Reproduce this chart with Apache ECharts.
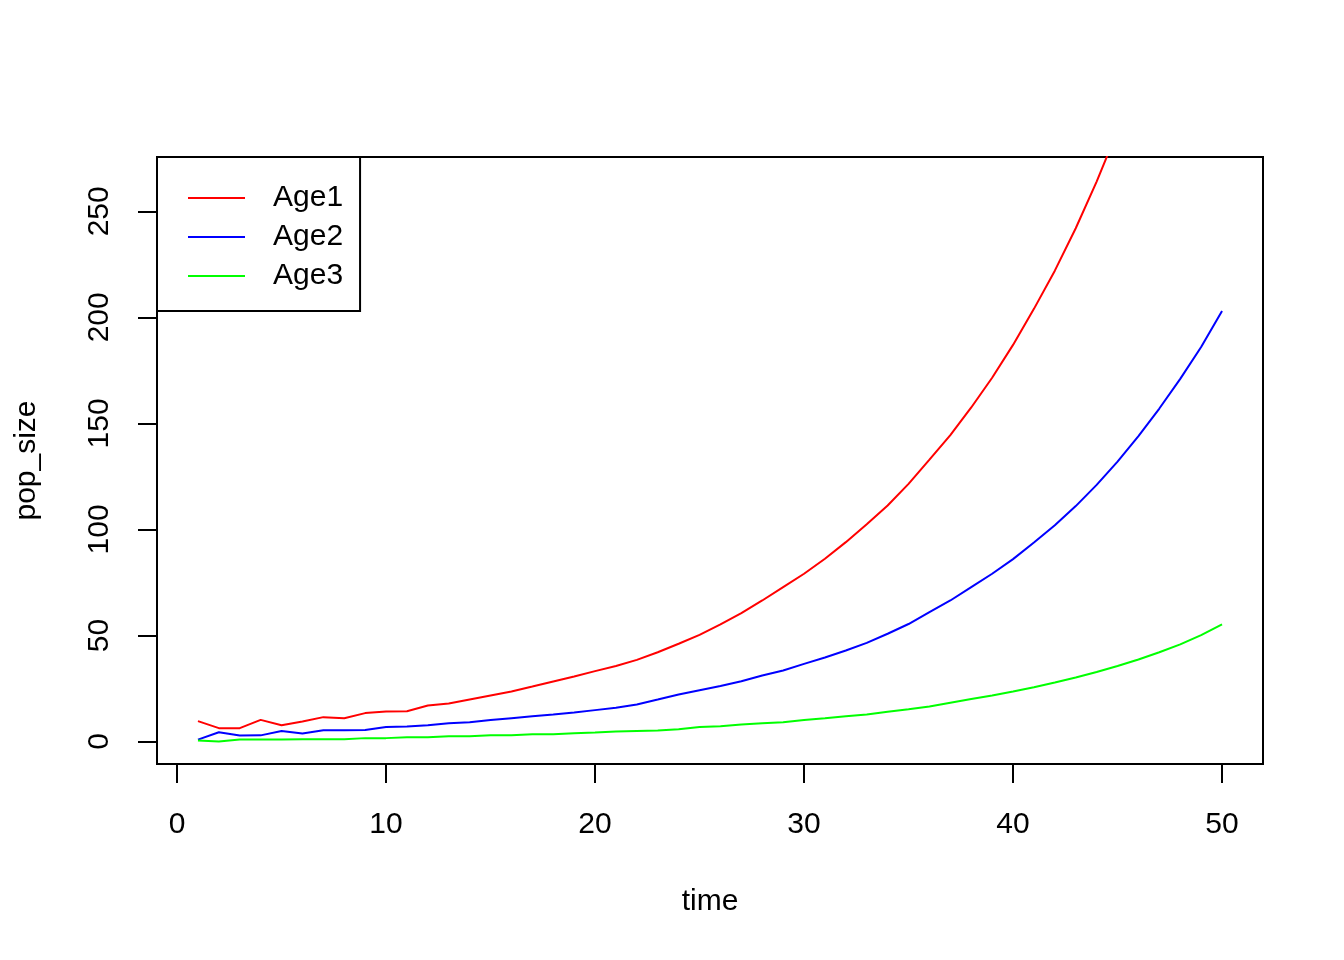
<!DOCTYPE html>
<html>
<head>
<meta charset="utf-8">
<script src="https://cdn.jsdelivr.net/npm/echarts@6/dist/echarts.min.js"></script>
<style>
html,body{margin:0;padding:0;background:#fff;}
#chart{width:1344px;height:960px;}
</style>
</head>
<body>
<div id="chart"></div>
<script>
const time = Array.from({length: 50}, (_, i) => i + 1);
const age1 = [9.6, 6.3, 6.3, 10.2, 7.7, 9.4, 11.5, 11.0, 13.4, 14.1,
  14.3, 17.0, 17.9, 19.8, 21.7, 23.6, 25.9, 28.3, 30.7, 33.2,
  35.6, 38.5, 42.1, 46.1, 50.3, 55.2, 60.5, 66.5, 72.8, 79.1,
  86.2, 94.0, 102.4, 111.3, 121.5, 132.9, 144.5, 157.5, 171.5, 187.0,
  204.0, 222.0, 242.0, 264.0, 288.0, 314.0, 342.0, 373.0, 406.0, 443.0];
const age2 = [0.9, 4.4, 2.8, 2.9, 5.0, 3.8, 5.3, 5.3, 5.4, 6.8,
  7.1, 7.7, 8.6, 9.1, 10.1, 11.0, 11.9, 12.7, 13.7, 14.8,
  15.9, 17.5, 19.8, 22.2, 24.2, 26.2, 28.4, 31.1, 33.5, 36.6,
  39.6, 42.9, 46.5, 50.8, 55.4, 61.0, 66.5, 72.8, 79.1, 86.0,
  93.8, 102.0, 111.0, 121.0, 132.0, 144.0, 157.0, 171.0, 186.0, 203.0];
const age3 = [0.5, 0.0, 0.9, 0.9, 0.9, 1.1, 1.1, 1.1, 1.6, 1.6,
  2.0, 2.0, 2.5, 2.5, 3.0, 3.0, 3.4, 3.4, 3.9, 4.2,
  4.7, 5.0, 5.2, 5.8, 6.8, 7.2, 8.0, 8.6, 9.1, 10.2,
  11.0, 11.9, 12.7, 14.0, 15.2, 16.5, 18.3, 20.0, 21.7, 23.6,
  25.6, 27.8, 30.2, 32.8, 35.6, 38.7, 42.1, 45.8, 50.2, 55.2];
const seriesNames = ['Age1', 'Age2', 'Age3'];
const seriesColors = ['#FF0000', '#0000FF', '#00FF00'];
const xTicks = [0, 10, 20, 30, 40, 50];
const yTicks = [0, 50, 100, 150, 200, 250];

const FONT = 'Liberation Sans, Arial, sans-serif';
const chart = echarts.init(document.getElementById('chart'), null, {renderer: 'canvas'});
const seriesData = [age1, age2, age3];
const option = {
  backgroundColor: '#ffffff',
  animation: false,
  grid: {
    left: 157, top: 157, right: 81, bottom: 196,
    show: true, borderColor: '#000', borderWidth: 2, backgroundColor: 'transparent'
  },
  legend: {
    left: 157, top: 157, orient: 'vertical',
    data: seriesNames,
    backgroundColor: '#fff', borderColor: '#000', borderWidth: 2,
    padding: [26, 17, 20, 30],
    itemWidth: 57, itemHeight: 30, itemGap: 9,
    itemStyle: {opacity: 0, borderWidth: 0},
    textStyle: {fontFamily: FONT, fontSize: 30, color: '#000', padding: [0, 0, 0, 23]}
  },
  xAxis: {
    type: 'value', min: -0.96, max: 51.96,
    name: 'time', nameLocation: 'middle', nameGap: 123,
    nameTextStyle: {fontFamily: FONT, fontSize: 30, color: '#000'},
    axisLine: {show: false, onZero: false},
    axisTick: {show: true, inside: false, length: 19, customValues: xTicks, lineStyle: {color: '#000', width: 2}},
    axisLabel: {show: true, customValues: xTicks, margin: 46, fontFamily: FONT, fontSize: 30, color: '#000'},
    splitLine: {show: false}
  },
  yAxis: {
    type: 'value', min: -10.6, max: 275.6,
    name: 'pop_size', nameLocation: 'middle', nameGap: 115,
    nameTextStyle: {fontFamily: FONT, fontSize: 30, color: '#000'},
    axisLine: {show: false, onZero: false},
    axisTick: {show: true, inside: false, length: 19, customValues: yTicks, lineStyle: {color: '#000', width: 2}},
    axisLabel: {show: true, customValues: yTicks, rotate: 90, margin: 42, fontFamily: FONT, fontSize: 30, color: '#000'},
    splitLine: {show: false}
  },
  series: seriesNames.map((n, i) => ({
    name: n, type: 'line', symbol: 'none', clip: true,
    data: time.map((t, j) => [t, seriesData[i][j]]),
    lineStyle: {color: seriesColors[i], width: 2},
    itemStyle: {color: seriesColors[i]}
  }))
};
chart.setOption(option);
</script>
</body>
</html>
